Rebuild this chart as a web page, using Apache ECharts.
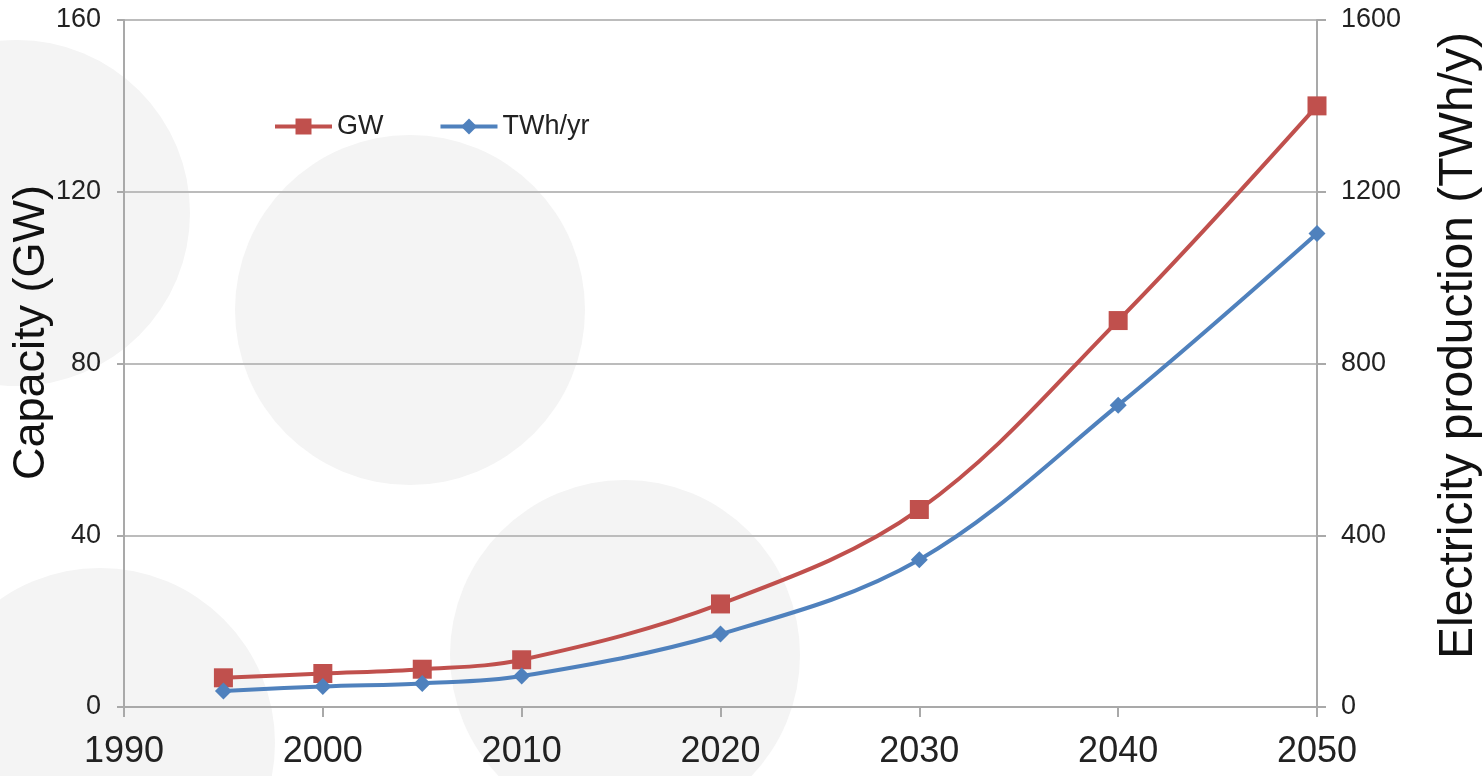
<!DOCTYPE html>
<html>
<head>
<meta charset="utf-8">
<style>
html,body{margin:0;padding:0;background:#fff;}
#chart{width:1484px;height:776px;}
</style>
<script src="https://cdn.jsdelivr.net/npm/echarts@6/dist/echarts.min.js"></script>
</head>
<body>
<div id="chart"></div>
<script>
var years = [1995, 2000, 2005, 2010, 2020, 2030, 2040, 2050];
var gwValues = [6.8, 7.8, 8.8, 11, 24, 46, 90, 140];
var twhValues = [37, 48, 55, 72, 170, 343, 703, 1103];
var xTicks = [1990, 2000, 2010, 2020, 2030, 2040, 2050];
var leftTicks = [0, 40, 80, 120, 160];
var rightTicks = [0, 400, 800, 1200, 1600];

function pairs(xs, ys) { return xs.map(function (x, i) { return [x, ys[i]]; }); }
function plain(v) { return String(v); }

var FONT = '"Liberation Sans", Arial, sans-serif';
var chart = echarts.init(document.getElementById('chart'));
var axisGray = '#a9a9a9';
var circ = '#f4f4f4';

chart.setOption({
  backgroundColor: '#ffffff',
  animation: false,
  textStyle: { fontFamily: FONT },
  graphic: [
    { type: 'circle', z: -100, silent: true, shape: { cx: 17, cy: 213, r: 173 }, style: { fill: circ } },
    { type: 'circle', z: -100, silent: true, shape: { cx: 410, cy: 310, r: 175 }, style: { fill: circ } },
    { type: 'circle', z: -100, silent: true, shape: { cx: 625, cy: 655, r: 175 }, style: { fill: circ } },
    { type: 'circle', z: -100, silent: true, shape: { cx: 100, cy: 743, r: 175 }, style: { fill: circ } }
  ],
  grid: { left: 124, right: 167, top: 20, bottom: 69, containLabel: false, outerBoundsMode: 'none' },
  legend: {
    left: 268, top: 108,
    itemWidth: 57, itemHeight: 20, itemGap: 55,
    lineStyle: { width: 4 },
    textStyle: { fontSize: 27, color: '#222', fontFamily: FONT },
    data: ['GW', 'TWh/yr']
  },
  xAxis: {
    type: 'value',
    min: xTicks[0], max: xTicks[xTicks.length - 1], interval: 10,
    axisLine: { show: true, lineStyle: { color: axisGray, width: 2 } },
    axisTick: { show: true, length: 10, lineStyle: { color: axisGray, width: 2 } },
    axisLabel: { fontSize: 36, color: '#222', margin: 27, fontFamily: FONT, formatter: plain },
    splitLine: { show: false }
  },
  yAxis: [
    {
      type: 'value', position: 'left',
      min: leftTicks[0], max: leftTicks[leftTicks.length - 1], interval: 40,
      name: 'Capacity (GW)', nameLocation: 'middle', nameRotate: 90, nameGap: 70,
      nameMoveOverlap: false,
      nameTextStyle: { fontSize: 45, color: '#111', fontFamily: FONT, padding: [0, 0, 0, 62] },
      axisLine: { show: true, lineStyle: { color: axisGray, width: 2 } },
      axisTick: { show: true, length: 7, lineStyle: { color: axisGray, width: 2 } },
      axisLabel: { fontSize: 27, color: '#222', margin: 23, fontFamily: FONT, formatter: plain },
      splitLine: { show: true, lineStyle: { color: '#bcbcbc', width: 2 } }
    },
    {
      type: 'value', position: 'right',
      min: rightTicks[0], max: rightTicks[rightTicks.length - 1], interval: 400,
      name: 'Electricity production (TWh/y)', nameLocation: 'middle', nameRotate: 90, nameGap: 118,
      nameMoveOverlap: false,
      nameTextStyle: { fontSize: 48, color: '#111', fontFamily: FONT, padding: [0, 0, 0, 36] },
      axisLine: { show: true, lineStyle: { color: axisGray, width: 2 } },
      axisTick: { show: true, length: 9, lineStyle: { color: axisGray, width: 2 } },
      axisLabel: { fontSize: 27, color: '#222', margin: 24, fontFamily: FONT, formatter: plain },
      splitLine: { show: false }
    }
  ],
  series: [
    {
      name: 'GW', type: 'line', yAxisIndex: 0, smooth: 0.35,
      data: pairs(years, gwValues),
      symbol: 'rect', symbolSize: 19, showAllSymbol: true,
      lineStyle: { color: '#C0504D', width: 4 },
      itemStyle: { color: '#C0504D' }
    },
    {
      name: 'TWh/yr', type: 'line', yAxisIndex: 1, smooth: 0.35,
      data: pairs(years, twhValues),
      symbol: 'diamond', symbolSize: 17, showAllSymbol: true,
      lineStyle: { color: '#4F81BD', width: 4 },
      itemStyle: { color: '#4F81BD' }
    }
  ]
});
</script>
</body>
</html>
